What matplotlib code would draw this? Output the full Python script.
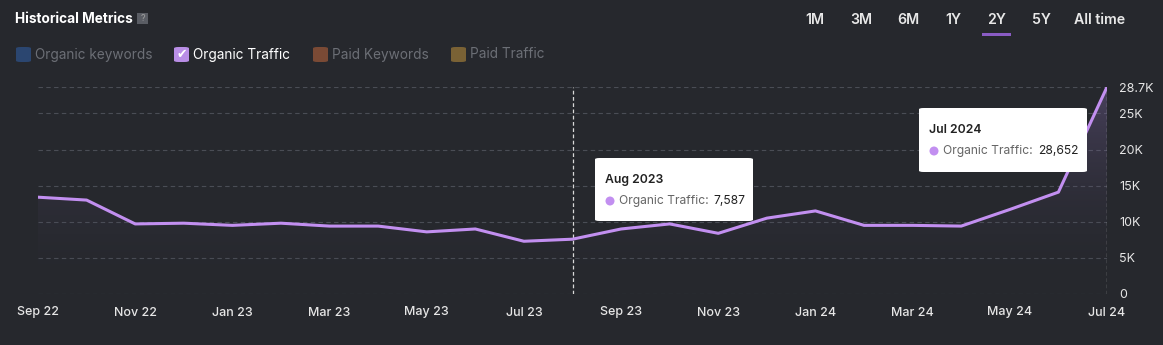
import matplotlib
matplotlib.use("Agg")
from matplotlib import pyplot as plt
from matplotlib.patches import FancyBboxPatch, Rectangle, Polygon
import numpy as np

plt.rcParams['font.family'] = ['Inter', 'DejaVu Sans']

# monthly organic traffic, Sep 2022 .. Jul 2024
months = ['Sep 22', 'Oct 22', 'Nov 22', 'Dec 22', 'Jan 23', 'Feb 23', 'Mar 23', 'Apr 23',
          'May 23', 'Jun 23', 'Jul 23', 'Aug 23', 'Sep 23', 'Oct 23', 'Nov 23', 'Dec 23',
          'Jan 24', 'Feb 24', 'Mar 24', 'Apr 24', 'May 24', 'Jun 24', 'Jul 24']
traffic = [13400, 13000, 9700, 9800, 9500, 9800, 9400, 9400,
           8600, 9000, 7300, 7587, 9000, 9700, 8400, 10500,
           11500, 9500, 9500, 9400, 11700, 14100, 28652]
ytick_vals = [0, 5000, 10000, 15000, 20000, 25000, 28652]
ytick_labels = ['0', '5K', '10K', '15K', '20K', '25K', '28.7K']

tabs = ['1M', '3M', '6M', '1Y', '2Y', '5Y', 'All time']
tab_x = [815, 861, 908, 953, 997, 1041, 1100]
legend_items = ['Organic keywords', 'Organic Traffic', 'Paid Keywords', 'Paid Traffic']
legend_colors = ['#2b4670', '#b98ee6', '#7a4a35', '#7a6235']
legend_x = [16, 174, 313, 451]

bg = '#26282d'
line_c = '#c28ff0'
W, H = 1163, 345

fig = plt.figure(figsize=(W / 100, H / 100), dpi=100, facecolor=bg)
ax = fig.add_axes([38 / W, 1 - 294 / H, (1107 - 38) / W, (294 - 87) / H])
ax.set_facecolor(bg)

x = np.arange(len(months))
ax.set_xlim(0, len(months) - 1)
ax.set_ylim(0, max(traffic))

# gradient fill under the line
grad = np.linspace(0, 1, 256).reshape(-1, 1)
cmap = matplotlib.colors.LinearSegmentedColormap.from_list(
    'g', [(0.16, 0.16, 0.19, 0.0), (0.6, 0.48, 0.8, 0.3)])
im = ax.imshow(grad, extent=[0, len(months) - 1, 0, max(traffic)], aspect='auto',
               origin='lower', cmap=cmap, zorder=1)
poly = Polygon(list(zip(x, traffic)) + [(x[-1], 0), (0, 0)], closed=True,
               facecolor='none', edgecolor='none', transform=ax.transData)
ax.add_patch(poly)
im.set_clip_path(poly)

ax.plot(x, traffic, color=line_c, lw=2.2, zorder=3, solid_joinstyle='round')

for v in ytick_vals:
    ax.axhline(v, color='#4a4d55', lw=0.8, ls=(0, (4, 3)), zorder=0)

ax.axvline(11, color='#d8d8d8', lw=0.9, ls=(0, (3, 2)), zorder=2)
ax.axvline(len(months) - 1, color='#d8d8d8', lw=0.9, ls=(0, (3, 2)), zorder=2)

for s in ax.spines.values():
    s.set_visible(False)
ax.yaxis.tick_right()
ax.set_yticks(ytick_vals)
ax.set_yticklabels(ytick_labels)
ax.set_xticks(x[::2])
ax.set_xticklabels(months[::2])
ax.tick_params(axis='both', length=0, colors='#e6e6e6', labelsize=9)
ax.tick_params(axis='y', pad=9)
ax.tick_params(axis='x', pad=9)
for lbl in ax.get_xticklabels():
    lbl.set_fontweight('medium')


def px(xp, yp):
    return xp / W, 1 - yp / H


# header
fig.text(*px(15, 19), 'Historical Metrics', color='white', fontsize=9.8,
         fontweight='bold', va='center', ha='left')
fig.patches.append(Rectangle(px(137, 24), 11 / W, 11 / H, transform=fig.transFigure,
                             facecolor='#5a5d64', edgecolor='none'))
fig.text(*px(142.5, 18.5), '?', color='#a0a0a0', fontsize=6.5, ha='center', va='center')

for name, c, lx in zip(legend_items, legend_colors, legend_x):
    fig.patches.append(FancyBboxPatch(px(lx, 62), 15 / W, 15 / H,
                                      boxstyle='round,pad=0,rounding_size=0.004',
                                      transform=fig.transFigure, facecolor=c, edgecolor='none'))
    tc = 'white' if name == 'Organic Traffic' else '#6c6f76'
    fig.text(*px(lx + 19, 54.5), name, color=tc, fontsize=9.8, va='center', ha='left')
    if name == 'Organic Traffic':
        fig.text(*px(lx + 7.5, 54.5), '✔', color='white', fontsize=9,
                 ha='center', va='center', family=['DejaVu Sans'])

for t, tx in zip(tabs, tab_x):
    fig.text(*px(tx, 19.5), t, color='#e8e8e8', fontsize=10.2, fontweight='semibold',
             ha='center', va='center')
fig.patches.append(Rectangle(px(982, 36), 29 / W, 3 / H, transform=fig.transFigure,
                             facecolor='#8a5cc4', edgecolor='none'))


# tooltips
def tooltip(x0, y0, w, h, title, value):
    fig.patches.append(FancyBboxPatch(px(x0, y0 + h), w / W, h / H,
                                      boxstyle='round,pad=0,rounding_size=0.004',
                                      transform=fig.transFigure, facecolor='white',
                                      edgecolor='none', zorder=5))
    fig.text(*px(x0 + 10, y0 + 22), title, color='#222222', fontsize=8.8,
             fontweight='semibold', va='center', ha='left', zorder=6)
    fig.add_artist(matplotlib.patches.Ellipse(px(x0 + 15, y0 + 43), 9 / W, 9 / H,
                                              transform=fig.transFigure,
                                              facecolor=line_c, edgecolor='none', zorder=6))
    t = fig.text(*px(x0 + 24, y0 + 43), 'Organic Traffic:', color='#666666', fontsize=8.7,
                 va='center', ha='left', zorder=6)
    fig.canvas.draw()
    bb = t.get_window_extent()
    fig.text((bb.x1 + 5) / W, 1 - (y0 + 43) / H, '{:,}'.format(value), color='#222222',
             fontsize=8.7, va='center', ha='left', zorder=6)


tooltip(595, 158, 158, 63, 'Aug 2023', traffic[11])
tooltip(919, 108, 168, 64, 'Jul 2024', traffic[-1])

fig.savefig('out.png', dpi=100, facecolor=bg)
